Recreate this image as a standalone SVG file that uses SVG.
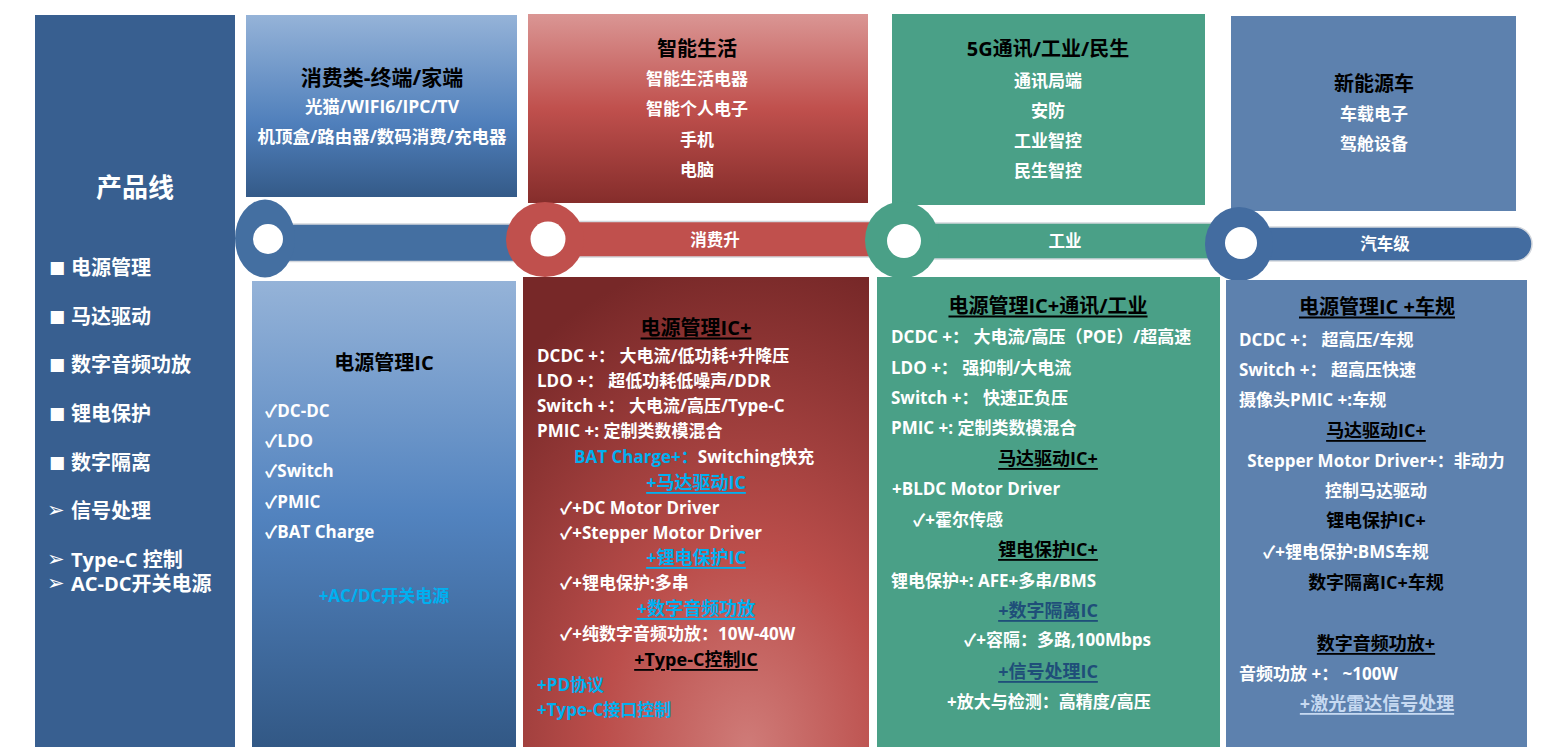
<svg xmlns="http://www.w3.org/2000/svg" width="1560" height="751" viewBox="0 0 1560 751">
<defs>
<linearGradient id="gT1" x1="0" y1="0" x2="0" y2="1"><stop offset="0" stop-color="#95b3d8"/><stop offset="0.6" stop-color="#4f7fbb"/><stop offset="1" stop-color="#345a88"/></linearGradient>
<linearGradient id="gB1" x1="0" y1="0" x2="0" y2="1"><stop offset="0" stop-color="#95b3d8"/><stop offset="0.5" stop-color="#5283bf"/><stop offset="1" stop-color="#325885"/></linearGradient>
<linearGradient id="gT2" x1="0" y1="0" x2="0" y2="1"><stop offset="0" stop-color="#da9694"/><stop offset="0.5" stop-color="#c0504d"/><stop offset="1" stop-color="#852d2b"/></linearGradient>
<radialGradient id="gB2" cx="0.65" cy="1.0" r="1.05"><stop offset="0" stop-color="#cf7b78"/><stop offset="0.4" stop-color="#bb4e4b"/><stop offset="1" stop-color="#772828"/></radialGradient>
<style>
.t{font-family:"Open Sans","Noto Sans CJK SC","DejaVu Sans",sans-serif;font-weight:700;dominant-baseline:central}
.w{fill:#ffffff}.k{fill:#000000}.c{fill:#00b0f0}.d{fill:#1f4e79}.l{fill:#c6d9f1}
.m{text-anchor:middle}.u{text-decoration:underline}
.s17{font-size:17px}.s18{font-size:18px}.s20{font-size:20px}
.bar{stroke:#d3d7dd;stroke-width:1.5}
.sq{font-family:"DejaVu Sans",sans-serif;font-size:17px;fill:#ffffff;dominant-baseline:central}
.ar{font-family:"DejaVu Sans",sans-serif;font-size:21px;fill:#ffffff;dominant-baseline:central}
</style>
</defs>
<rect width="1560" height="751" fill="#ffffff"/>

<g id="product-line">
<rect x="35" y="15" width="200" height="732" fill="#385f90"/>
<text class="t w m" x="135" y="187" font-size="26">产品线</text>
<g class="t w" font-size="20">
<text class="sq" x="49" y="267">■</text><text x="71" y="267">电源管理</text>
<text class="sq" x="49" y="316">■</text><text x="71" y="316">马达驱动</text>
<text class="sq" x="49" y="364">■</text><text x="71" y="364">数字音频功放</text>
<text class="sq" x="49" y="413">■</text><text x="71" y="413">锂电保护</text>
<text class="sq" x="49" y="462">■</text><text x="71" y="462">数字隔离</text>
<text class="ar" x="47" y="510">➢</text><text x="71" y="510">信号处理</text>
<text class="ar" x="47" y="559">➢</text><text x="71" y="559">Type-C 控制</text>
<text class="ar" x="47" y="583">➢</text><text x="71" y="583">AC-DC开关电源</text>
</g>
</g>

<g id="top-consumer">
<rect x="246" y="15" width="271" height="182" fill="url(#gT1)"/>
<text class="t k m" x="382" y="77" font-size="21">消费类-终端/家端</text>
<text class="t w m" x="382" y="106" font-size="17.5">光猫/WIFI6/IPC/TV</text>
<text class="t w m" x="382" y="136" font-size="17.5">机顶盒/路由器/数码消费/充电器</text>
</g>

<g id="top-smartlife">
<rect x="528" y="14" width="340" height="189" fill="url(#gT2)"/>
<text class="t k m s20" x="697" y="48">智能生活</text>
<text class="t w m s17" x="697" y="78">智能生活电器</text>
<text class="t w m s17" x="697" y="108">智能个人电子</text>
<text class="t w m s17" x="697" y="139">手机</text>
<text class="t w m s17" x="697" y="169">电脑</text>
</g>

<g id="top-5g">
<rect x="892" y="14" width="313" height="191" fill="#4aa087"/>
<text class="t k m s20" x="1048" y="48">5G通讯/工业/民生</text>
<text class="t w m s17" x="1048" y="80">通讯局端</text>
<text class="t w m s17" x="1048" y="110">安防</text>
<text class="t w m s17" x="1048" y="140">工业智控</text>
<text class="t w m s17" x="1048" y="170">民生智控</text>
</g>

<g id="top-ev">
<rect x="1231" y="16" width="285" height="195" fill="#5d81ae"/>
<text class="t k m s20" x="1374" y="83">新能源车</text>
<text class="t w m s17" x="1374" y="113">车载电子</text>
<text class="t w m s17" x="1374" y="143">驾舱设备</text>
</g>

<g id="connectors">
<rect class="bar" x="265" y="224" width="290" height="37.5" fill="#446fa1"/>
<rect class="bar" x="546" y="221.5" width="360" height="35.5" fill="#c0504d"/>
<rect class="bar" x="902" y="223" width="340" height="36" fill="#4aa087"/>
<rect class="bar" x="1230" y="227" width="302" height="34" rx="17" fill="#436ca0"/>
<ellipse cx="265" cy="238.5" rx="30" ry="39" fill="#446fa1"/>
<circle cx="268" cy="239" r="15" fill="#ffffff"/>
<ellipse cx="545" cy="239.5" rx="39" ry="37.5" fill="#c0504d"/>
<circle cx="548" cy="239" r="17.5" fill="#ffffff"/>
<ellipse cx="902" cy="240" rx="37" ry="38.5" fill="#4aa087"/>
<circle cx="904" cy="241" r="17" fill="#ffffff"/>
<ellipse cx="1239" cy="244" rx="34" ry="37" fill="#436ca0"/>
<circle cx="1241" cy="243" r="16" fill="#ffffff"/>
<text class="t w m" x="715" y="239" font-size="16.5">消费升</text>
<text class="t w m" x="1065" y="240" font-size="16.5">工业</text>
<text class="t w m" x="1385" y="243" font-size="16.5">汽车级</text>
</g>

<g id="pm-ic">
<rect x="252" y="281" width="264" height="466" fill="url(#gB1)"/>
<text class="t k m s20" x="384" y="362">电源管理IC</text>
<text class="t w s17" x="265" y="410">✓DC-DC</text>
<text class="t w s17" x="265" y="440">✓LDO</text>
<text class="t w s17" x="265" y="470">✓Switch</text>
<text class="t w s17" x="265" y="501">✓PMIC</text>
<text class="t w s17" x="265" y="531">✓BAT Charge</text>
<text class="t c m s17" x="384" y="595">+AC/DC开关电源</text>
</g>

<g id="pm-ic-plus">
<rect x="523" y="277" width="346" height="470" fill="url(#gB2)"/>
<text class="t k m u s20" x="696" y="327">电源管理IC+</text>
<text class="t w s17" x="537" y="355">DCDC +： 大电流/低功耗+升降压</text>
<text class="t w s17" x="537" y="380">LDO +： 超低功耗低噪声/DDR</text>
<text class="t w s17" x="537" y="405">Switch +： 大电流/高压/Type-C</text>
<text class="t w s17" x="537" y="430">PMIC +: 定制类数模混合</text>
<text class="t s17" x="574" y="456"><tspan class="c">BAT Charge+：</tspan><tspan class="w">Switching快充</tspan></text>
<text class="t c m u s18" x="696" y="482">+马达驱动IC</text>
<text class="t w s17" x="560" y="507">✓+DC Motor Driver</text>
<text class="t w s17" x="560" y="532">✓+Stepper Motor Driver</text>
<text class="t c m u s18" x="696" y="557">+锂电保护IC</text>
<text class="t w s17" x="560" y="582">✓+锂电保护:多串</text>
<text class="t c m u s18" x="696" y="608">+数字音频功放</text>
<text class="t w s17" x="560" y="633">✓+纯数字音频功放：10W-40W</text>
<text class="t k m u s18" x="696" y="659">+Type-C控制IC</text>
<text class="t c s17" x="537" y="684">+PD协议</text>
<text class="t c s17" x="537" y="709">+Type-C接口控制</text>
</g>

<g id="pm-ic-industrial">
<rect x="877" y="277" width="343" height="470" fill="#4aa087"/>
<text class="t k m u s20" x="1048" y="305">电源管理IC+通讯/工业</text>
<text class="t w s17" x="891" y="336">DCDC +： 大电流/高压（POE）/超高速</text>
<text class="t w s17" x="891" y="367">LDO +： 强抑制/大电流</text>
<text class="t w s17" x="891" y="397">Switch +： 快速正负压</text>
<text class="t w s17" x="891" y="427">PMIC +: 定制类数模混合</text>
<text class="t k m u s18" x="1048" y="458">马达驱动IC+</text>
<text class="t w s17" x="892" y="488">+BLDC Motor Driver</text>
<text class="t w s17" x="913" y="519">✓+霍尔传感</text>
<text class="t k m u s18" x="1048" y="549">锂电保护IC+</text>
<text class="t w s17" x="891" y="580">锂电保护+: AFE+多串/BMS</text>
<text class="t d m u s18" x="1048" y="610">+数字隔离IC</text>
<text class="t w s17" x="964" y="639">✓+容隔：多路,100Mbps</text>
<text class="t d m u s18" x="1048" y="671">+信号处理IC</text>
<text class="t w s17" x="947" y="701">+放大与检测：高精度/高压</text>
</g>

<g id="pm-ic-auto">
<rect x="1226" y="280" width="301" height="467" fill="#5d81ae"/>
<text class="t k m u s20" x="1377" y="306">电源管理IC +车规</text>
<text class="t w s17" x="1239" y="339">DCDC +： 超高压/车规</text>
<text class="t w s17" x="1239" y="369">Switch +： 超高压快速</text>
<text class="t w s17" x="1239" y="399">摄像头PMIC +:车规</text>
<text class="t k m u s18" x="1376" y="430">马达驱动IC+</text>
<text class="t w m s17" x="1376" y="460">Stepper Motor Driver+：非动力</text>
<text class="t w m s17" x="1376" y="490">控制马达驱动</text>
<text class="t k m s18" x="1376" y="520">锂电保护IC+</text>
<text class="t w s17" x="1263" y="551">✓+锂电保护:BMS车规</text>
<text class="t k m s18" x="1376" y="582">数字隔离IC+车规</text>
<text class="t k m u s18" x="1376" y="643">数字音频功放+</text>
<text class="t w s17" x="1239" y="673">音频功放 +： ~100W</text>
<text class="t l m u s18" x="1377" y="703">+激光雷达信号处理</text>
</g>
</svg>
